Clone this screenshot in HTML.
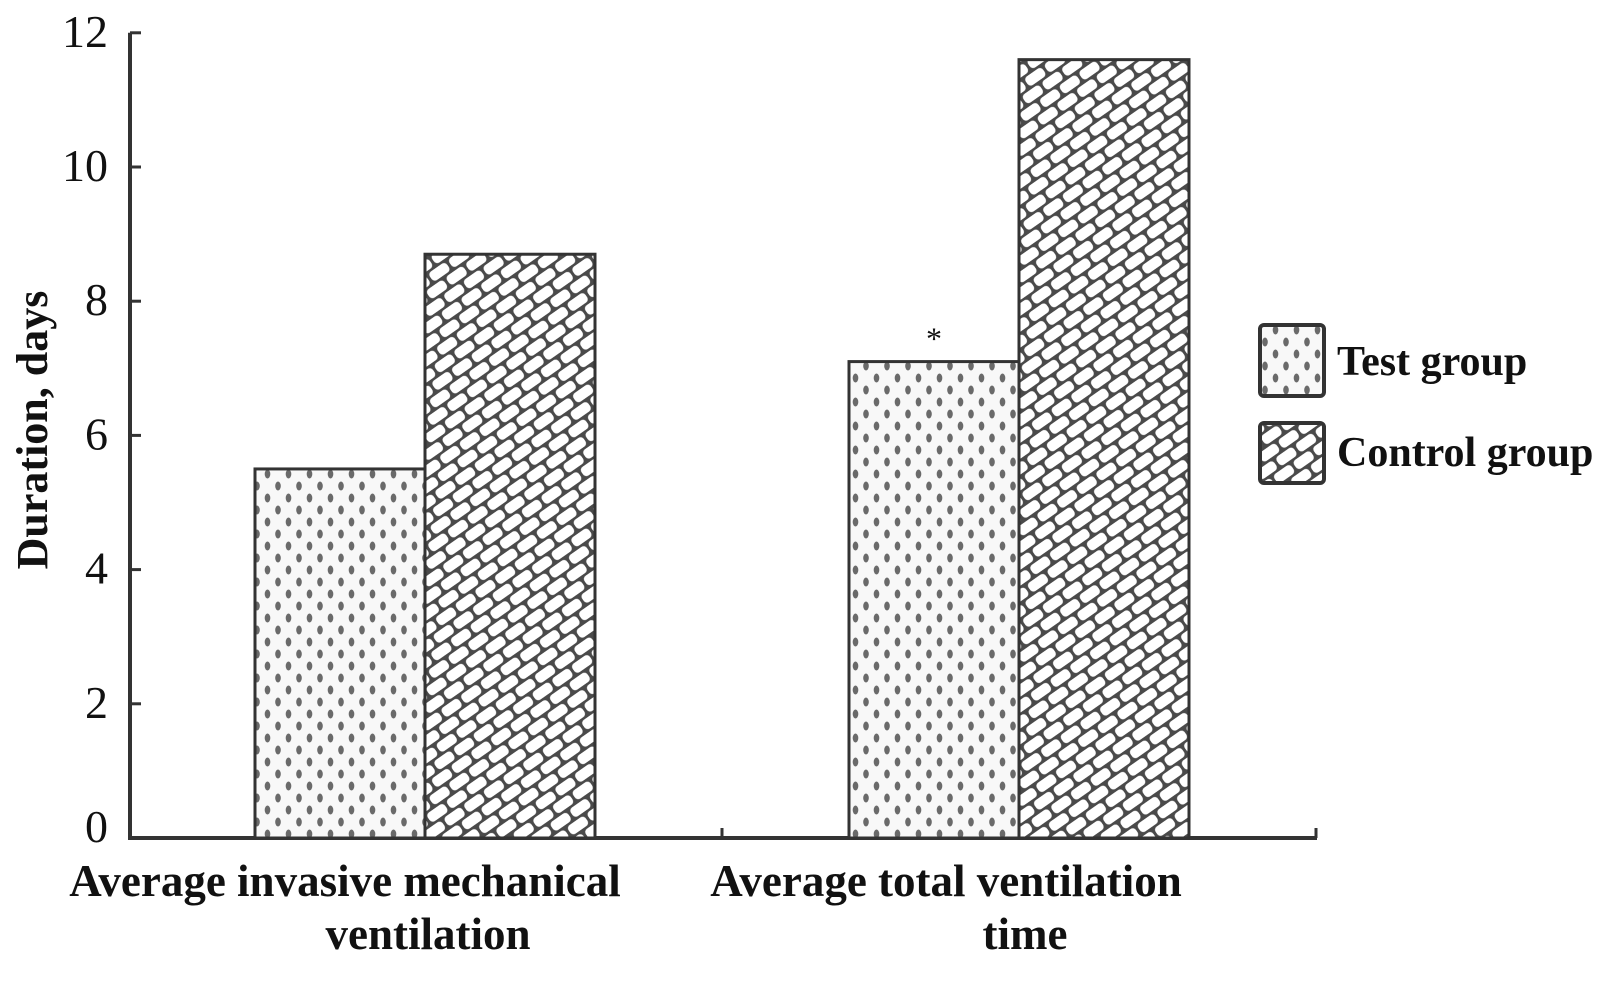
<!DOCTYPE html>
<html><head><meta charset="utf-8"><style>
html,body{margin:0;padding:0;background:#fff;}
svg text{font-family:"Liberation Serif",serif;fill:#111;}
</style></head><body>
<svg width="1599" height="976" viewBox="0 0 1599 976" xmlns="http://www.w3.org/2000/svg">
<defs>
<pattern id="dots" width="21" height="24" patternUnits="userSpaceOnUse">
<rect width="21" height="24" fill="#f8f8f8"/>
<ellipse cx="5" cy="6" rx="2.8" ry="4.5" fill="#6a6a6a"/>
<ellipse cx="15.5" cy="18" rx="2.8" ry="4.5" fill="#6a6a6a"/>
</pattern>
<pattern id="bricks" width="24" height="26" patternUnits="userSpaceOnUse" patternTransform="rotate(-35)">
<rect width="24" height="26" fill="#4a4a4a"/>
<rect x="1.5" y="1.5" width="21" height="10.5" rx="4" fill="#fff"/>
<rect x="-10.5" y="14.5" width="21" height="10.5" rx="4" fill="#fff"/>
<rect x="13.5" y="14.5" width="21" height="10.5" rx="4" fill="#fff"/>
</pattern>
</defs>
<g id="axes"></g>
<g id="bars"></g>
<g id="legend">
<rect x="1260" y="325" width="64" height="71" rx="4" fill="url(#dots)" stroke="#333" stroke-width="4"/>
<text x="1337" y="375" font-size="42" font-weight="bold">Test group</text>
<rect x="1260" y="423" width="64" height="60" rx="4" fill="url(#bricks)" stroke="#333" stroke-width="4"/>
<text x="1337" y="466" font-size="42" font-weight="bold">Control group</text>
</g>
<text transform="translate(47,430) rotate(-90)" text-anchor="middle" font-size="44" font-weight="bold">Duration, days</text>
<text x="345" y="896" text-anchor="middle" font-size="45" font-weight="bold">Average invasive mechanical</text>
<text x="428" y="949" text-anchor="middle" font-size="45" font-weight="bold">ventilation</text>
<text x="946" y="896" text-anchor="middle" font-size="45" font-weight="bold">Average total ventilation</text>
<text x="1025" y="949" text-anchor="middle" font-size="45" font-weight="bold">time</text>
</svg>
<script>
const categories = ["Average invasive mechanical ventilation","Average total ventilation time"];
const testValues = [5.5, 7.1];
const controlValues = [8.7, 11.6];
const yTicks = [0,2,4,6,8,10,12];
const annotations = ["", "*"];

const NS="http://www.w3.org/2000/svg";
const y0=838, pxPerUnit=67.1;
function yScale(v){return y0 - v*pxPerUnit;}
const groupLeft=[255,849], barW=170;
function mk(tag,attrs,parent){const e=document.createElementNS(NS,tag);for(const k in attrs)e.setAttribute(k,attrs[k]);parent.appendChild(e);return e;}
const axes=document.getElementById('axes'), bars=document.getElementById('bars');
let yl=mk('line',{x1:130,y1:yScale(0),x2:130,y2:yScale(12),stroke:'#333','stroke-width':4},axes);


let xl=mk('line',{x1:128,y1:y0,x2:1317,y2:y0,stroke:'#333','stroke-width':4},axes);


[722,1316].forEach(x=>{const t=mk('line',{x1:x,y1:y0,x2:x,y2:y0-10,stroke:'#333','stroke-width':3},axes);

});
yTicks.forEach(v=>{
 const t=mk('line',{x1:130,y1:yScale(v),x2:141,y2:yScale(v),stroke:'#333','stroke-width':3},axes);
 
 
 const l=mk('text',{x:108,y:yScale(v)+(v===0?4:14),'text-anchor':'end','font-size':46},axes);
 l.textContent=v;
 
 
});
categories.forEach((c,i)=>{
 const x=groupLeft[i];
 const b1=mk('rect',{x:x,y:yScale(testValues[i]),width:barW,height:y0-yScale(testValues[i]),fill:'url(#dots)',stroke:'#333','stroke-width':3},bars);
 
 
 const b2=mk('rect',{x:x+barW,y:yScale(controlValues[i]),width:barW,height:y0-yScale(controlValues[i]),fill:'url(#bricks)',stroke:'#333','stroke-width':3},bars);
 
 
 if(annotations[i]){
  const a=mk('text',{x:x+barW/2,y:yScale(testValues[i])-12,'text-anchor':'middle','font-size':32},bars);
  a.textContent=annotations[i];
  
  
 }
});
</script>
</body></html>
